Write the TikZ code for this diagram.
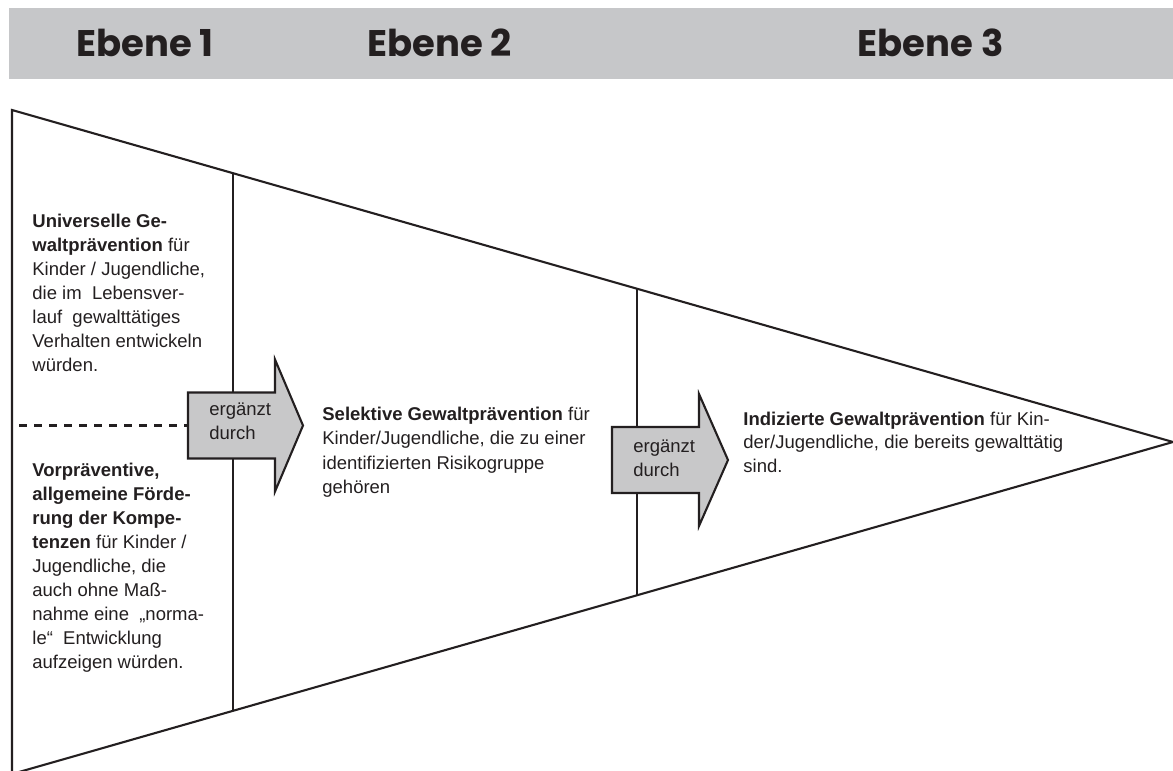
\documentclass[tikz,border=0pt]{standalone}
\usepackage{fontspec}
\setmainfont{Liberation Sans}
\newfontfamily\headfont{Poppins}
\usetikzlibrary{calc}
\definecolor{band}{HTML}{C6C7C9}
\definecolor{arrowgray}{HTML}{C8C8C9}
\definecolor{ink}{HTML}{231F20}
\tikzset{
  header/.style={font=\headfont\bfseries\fontsize{18.5pt}{22pt}\selectfont, text=ink, anchor=base, inner sep=0pt},
  body/.style={font=\fontsize{9.25pt}{12pt}\selectfont, text=ink, anchor=base west, inner sep=0pt},
  edge/.style={draw=ink, line width=1.05pt},
  arrowbox/.style={draw=ink, fill=arrowgray, line width=1.05pt, line join=miter},
}
\newcommand{\blk}[2]{\parbox[t]{#1}{\raggedright #2}}
\begin{document}
\begin{tikzpicture}[x=0.5pt,y=-0.5pt]
\useasboundingbox (0,0) rectangle (1173,771);
\clip (0,0) rectangle (1173,771);
% header band
\fill[band] (9,8) rectangle (1173,79);
\node[header] (e1) at (145,56) {Ebene 1};
\node[header] (e2) at (439.5,56) {Ebene 2};
\node[header] (e3) at (930.5,56) {Ebene 3};
% triangle
\coordinate (A) at (12,110);
\coordinate (B) at (1173,442);
\coordinate (C) at (12,774);
\draw[edge, line join=miter] (A) -- (B) -- (C) -- cycle;
% vertical separators
\coordinate (v1t) at ($(A)!0.19035!(B)$);
\coordinate (v1b) at ($(C)!0.19035!(B)$);
\coordinate (v2t) at ($(A)!0.53833!(B)$);
\coordinate (v2b) at ($(C)!0.53833!(B)$);
\draw[edge] (v1t) -- (v1b);
\draw[edge] (v2t) -- (v2b);
% arrows
\coordinate (a1) at (188,425.5);
\coordinate (a2) at (612,460);
\coordinate (d0) at (19,425.5);
\draw[edge, line width=1.4pt, dash pattern=on 4pt off 3.5pt] (d0) -- (a1);
\draw[arrowbox] (a1) ++(0,-33) -- ++(87,0) -- ++(0,-33) -- ++(28,66) -- ++(-28,66) -- ++(0,-33) -- ++(-87,0) -- cycle;
\draw[arrowbox] (a2) ++(0,-33) -- ++(87,0) -- ++(0,-33) -- ++(29,66) -- ++(-29,66) -- ++(0,-33) -- ++(-87,0) -- cycle;
\node[body] (l1) at (209,415) {\blk{60pt}{ergänzt\\durch}};
\node[body] (l2) at (633,452.5) {\blk{60pt}{ergänzt\\durch}};
% texts
\node[body] (univ) at (32,227) {\blk{120pt}{\textbf{Universelle Ge-}\\
\textbf{waltprävention} für\\
Kinder / Jugendliche,\\
die im\ \ Lebensver-\\
lauf\ \ gewalttätiges\\
Verhalten entwickeln\\
würden.}};
\node[body] (vor) at (32,476.5) {\blk{120pt}{\textbf{Vorpräventive,}\\
\textbf{allgemeine Förde-}\\
\textbf{rung der Kompe-}\\
\textbf{tenzen} für Kinder /\\
Jugendliche, die\\
auch ohne Maß-\\
nahme eine\ \ „norma-\\
le“\ \ Entwicklung\\
aufzeigen würden.}};
\node[body, font=\fontsize{9.25pt}{12.25pt}\selectfont] (sel) at (322,420) {\blk{200pt}{\textbf{Selektive Gewaltprävention} für\\
Kinder/Jugendliche, die zu einer\\
identifizierten Risikogruppe\\
gehören}};
\node[body, font=\fontsize{9.25pt}{11.75pt}\selectfont] (ind) at (743,425) {\blk{200pt}{\textbf{Indizierte Gewaltprävention} für Kin-\\
der/Jugendliche, die bereits gewalttätig\\
sind.}};
\end{tikzpicture}
\end{document}
